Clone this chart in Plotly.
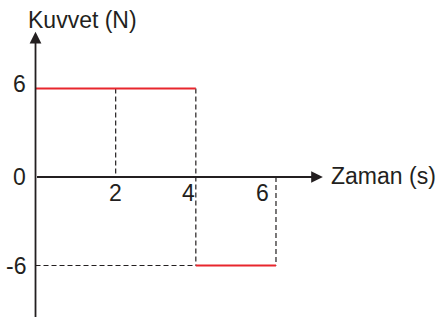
import plotly.graph_objects as go

# Veriler
zaman_ticks = [2, 4, 6]
kuvvet_ticks = [6, 0, -6]

# Kuvvet-zaman grafiği: iki sabit kuvvet aralığı
aralik_baslangic = [0, 4]
aralik_bitis = [4, 6]
aralik_kuvvet = [6, -6]

KIRMIZI = '#e8262d'
KOYU = '#231f20'
FONT = 'Liberation Sans, Arial, sans-serif'
YAZI = 23

fig = go.Figure()

# Kesikli yardımcı çizgiler
kesik_x = [2, 2, None, 4, 4, None, 6, 6, None, 0, 4]
kesik_y = [6, 0, None, 6, -6, None, 0, -6, None, -6, -6]
fig.add_trace(go.Scatter(
    x=kesik_x, y=kesik_y, mode='lines',
    line=dict(color=KOYU, width=1.2, dash='5px,3px'),
    hoverinfo='skip'
))

# Kırmızı kuvvet çizgileri
kx, ky = [], []
for x0, x1, f in zip(aralik_baslangic, aralik_bitis, aralik_kuvvet):
    kx += [x0, x1, None]
    ky += [f, f, None]
fig.add_trace(go.Scatter(
    x=kx, y=ky, mode='lines',
    line=dict(color=KIRMIZI, width=2),
    hoverinfo='skip'
))

annotations = []

# Eksenler (ok uçlu)
annotations.append(dict(
    x=7.17, y=0, ax=0, ay=0, xref='x', yref='y', axref='x', ayref='y',
    showarrow=True, arrowhead=2, arrowsize=1.3, arrowwidth=1.8,
    arrowcolor=KOYU, text=''
))
annotations.append(dict(
    x=0, y=9.85, ax=0, ay=-9.6, xref='x', yref='y', axref='x', ayref='y',
    showarrow=True, arrowhead=2, arrowsize=1.3, arrowwidth=1.8,
    arrowcolor=KOYU, text=''
))

# Y ekseni etiketleri
for v in kuvvet_ticks:
    annotations.append(dict(
        x=0, y=v, xref='x', yref='y', text=str(v), showarrow=False,
        xanchor='right', yanchor='middle', xshift=-8,
        yshift=5 if v > 0 else 0,
        font=dict(family=FONT, size=YAZI, color=KOYU)
    ))

# X ekseni etiketleri
x_kaydir = {2: 0, 4: -7, 6: -13}
for v in zaman_ticks:
    annotations.append(dict(
        x=v, y=0, xref='x', yref='y', text=str(v), showarrow=False,
        xanchor='center', yanchor='top', yshift=-1,
        xshift=x_kaydir[v],
        font=dict(family=FONT, size=YAZI, color=KOYU)
    ))

# Eksen başlıkları
annotations.append(dict(
    x=-0.24, y=10.66, xref='x', yref='y', text='Kuvvet (N)', showarrow=False,
    xanchor='left', yanchor='middle',
    font=dict(family=FONT, size=YAZI, color=KOYU)
))
annotations.append(dict(
    x=7.32, y=0, xref='x', yref='y', text='Zaman (s)', showarrow=False,
    xanchor='left', yanchor='middle', yshift=1,
    font=dict(family=FONT, size=YAZI, color=KOYU)
))

fig.update_layout(
    width=439, height=320,
    margin=dict(l=0, r=0, t=0, b=0),
    paper_bgcolor='white', plot_bgcolor='white',
    showlegend=False,
    xaxis=dict(range=[-0.886, 10.067], visible=False, fixedrange=True),
    yaxis=dict(range=[-9.695, 12.0], visible=False, fixedrange=True),
    annotations=annotations
)

fig.write_html("out.html", config={'displayModeBar': False},
               post_script="document.body.style.margin='0';")
